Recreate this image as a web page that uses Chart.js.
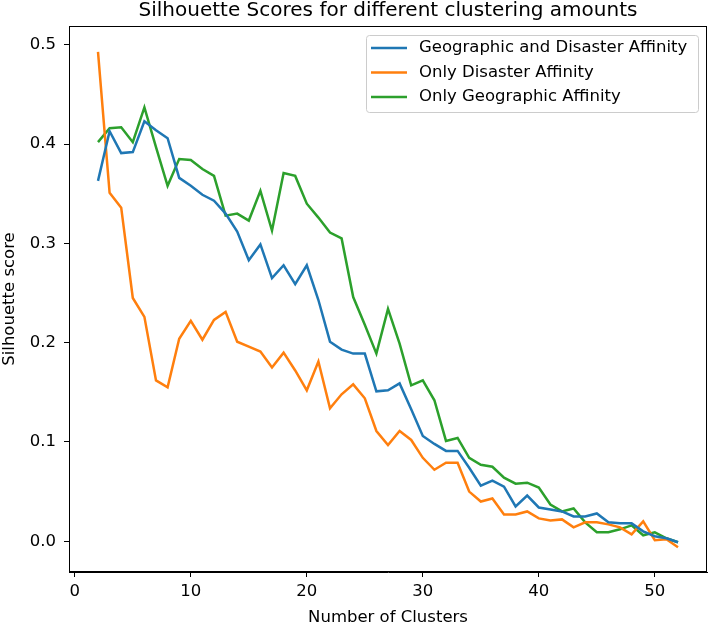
<!DOCTYPE html>
<html>
<head>
<meta charset="utf-8">
<script src="https://cdn.jsdelivr.net/npm/chart.js@4.4.1/dist/chart.umd.min.js"></script>
<style>
  html, body { margin: 0; padding: 0; background: #fff; }
  #wrap { width: 708px; height: 627px; position: relative; }
</style>
</head>
<body>
<div id="wrap"><canvas id="grafico"></canvas></div>
<script>
// number of clusters on the x axis
const clusters = [2, 3, 4, 5, 6, 7, 8, 9, 10, 11, 12, 13, 14, 15, 16, 17, 18, 19, 20, 21, 22, 23, 24, 25, 26,
    27, 28, 29, 30, 31, 32, 33, 34, 35, 36, 37, 38, 39, 40, 41, 42, 43, 44, 45, 46, 47, 48, 49, 50, 51, 52];

const geoDisaster = [0.363, 0.413, 0.391, 0.392, 0.423, 0.414, 0.406, 0.366, 0.358, 0.349, 0.343, 0.330, 0.312,
    0.283, 0.299, 0.265, 0.278, 0.259, 0.278, 0.243, 0.201, 0.193, 0.189, 0.189, 0.151, 0.152, 0.159, 0.133,
    0.106, 0.098, 0.091, 0.091, 0.074, 0.056, 0.061, 0.055, 0.035, 0.046, 0.034, 0.032, 0.030, 0.025, 0.025,
    0.028, 0.019, 0.018, 0.018, 0.010, 0.005, 0.003, -0.001];

const onlyDisaster = [0.493, 0.351, 0.336, 0.245, 0.226, 0.162, 0.155, 0.204, 0.222, 0.203, 0.223, 0.231, 0.201,
    0.196, 0.191, 0.175, 0.190, 0.172, 0.152, 0.181, 0.134, 0.148, 0.158, 0.144, 0.111, 0.097, 0.111, 0.102,
    0.084, 0.072, 0.079, 0.079, 0.050, 0.040, 0.043, 0.027, 0.027, 0.030, 0.023, 0.021, 0.022, 0.014, 0.019,
    0.019, 0.017, 0.014, 0.007, 0.020, 0.001, 0.002, -0.006];

const onlyGeo = [0.402, 0.416, 0.417, 0.402, 0.437, 0.397, 0.358, 0.385, 0.384, 0.375, 0.368, 0.328, 0.330,
    0.323, 0.353, 0.313, 0.371, 0.368, 0.340, 0.326, 0.311, 0.305, 0.246, 0.218, 0.189, 0.234, 0.199, 0.157,
    0.162, 0.142, 0.101, 0.104, 0.084, 0.077, 0.075, 0.064, 0.058, 0.059, 0.054, 0.037, 0.030, 0.033, 0.019,
    0.009, 0.009, 0.012, 0.016, 0.006, 0.009, 0.003, -0.001];

const xTicks = [0, 10, 20, 30, 40, 50];
const yTicks = [0.0, 0.1, 0.2, 0.3, 0.4, 0.5];

const seriesNames = ['Geographic and Disaster Affinity', 'Only Disaster Affinity', 'Only Geographic Affinity'];
const colores = ['#1f77b4', '#ff7f0e', '#2ca02c'];

const FUENTE = 'DejaVu Sans';
const TAM = 16.5;   // 10pt at this size

const puntos = (vals) => clusters.map((c, i) => ({ x: c, y: vals[i] }));

// frame on all four sides, title and legend box like matplotlib
const marcoPlugin = {
    id: 'marco',
    afterDraw(chart) {
        const { ctx, chartArea: a } = chart;
        ctx.save();
        ctx.strokeStyle = '#000';
        ctx.lineWidth = 1;
        ctx.strokeRect(a.left + 0.5, a.top + 0.5, a.right - a.left - 1, a.bottom - a.top - 1);

        // title
        ctx.fillStyle = '#000';
        ctx.font = `20px "${FUENTE}"`;
        ctx.textAlign = 'center';
        ctx.textBaseline = 'middle';
        ctx.fillText('Silhouette Scores for different clustering amounts', (a.left + a.right) / 2, 11);

        // legend
        const bx = 366, by = 35, bw = 332, bh = 77;
        ctx.beginPath();
        ctx.roundRect(bx + 0.5, by + 0.5, bw, bh, 3);
        ctx.fillStyle = 'rgba(255,255,255,0.8)';
        ctx.fill();
        ctx.strokeStyle = '#cccccc';
        ctx.stroke();
        ctx.font = `${TAM}px "${FUENTE}"`;
        ctx.textAlign = 'left';
        seriesNames.forEach((nombre, i) => {
            const y = 48 + i * 24.5;
            ctx.strokeStyle = colores[i];
            ctx.lineWidth = 2.5;
            ctx.beginPath();
            ctx.moveTo(371, y);
            ctx.lineTo(407, y);
            ctx.stroke();
            ctx.fillStyle = '#000';
            ctx.fillText(nombre, 419, y);
        });
        ctx.restore();
    }
};

new Chart(document.getElementById('grafico'), {
    type: 'line',
    data: {
        datasets: seriesNames.map((nombre, i) => ({
            label: nombre,
            data: puntos([geoDisaster, onlyDisaster, onlyGeo][i]),
            borderColor: colores[i],
            backgroundColor: colores[i],
            borderWidth: 2.5,
            pointRadius: 0,
            tension: 0,
            fill: false
        }))
    },
    options: {
        responsive: true,
        maintainAspectRatio: false,
        animation: false,
        layout: { padding: { top: 26, right: 1, left: 0, bottom: 0 } },
        plugins: {
            legend: { display: false },
            title: { display: false },
            tooltip: { enabled: false }
        },
        scales: {
            x: {
                type: 'linear',
                min: -0.5,
                max: 54.5,
                afterBuildTicks: (s) => { s.ticks = xTicks.map(v => ({ value: v })); },
                afterFit: (s) => { s.height = 55; },
                grid: { drawOnChartArea: false, drawTicks: true, tickLength: 5, tickColor: '#000' },
                border: { display: true, color: '#000' },
                ticks: { color: '#000', font: { family: FUENTE, size: TAM }, padding: 5, maxRotation: 0 },
                title: { display: true, text: 'Number of Clusters', color: '#000', font: { family: FUENTE, size: TAM }, padding: { bottom: -1 } }
            },
            y: {
                type: 'linear',
                min: -0.031,
                max: 0.519,
                afterBuildTicks: (s) => { s.ticks = yTicks.map(v => ({ value: v })); },
                afterFit: (s) => { s.width = 69; },
                grid: { drawOnChartArea: false, drawTicks: true, tickLength: 5, tickColor: '#000' },
                border: { display: true, color: '#000' },
                ticks: { color: '#000', font: { family: FUENTE, size: TAM }, padding: 8, callback: (v) => v.toFixed(1) },
                title: { display: true, text: 'Silhouette score', color: '#000', font: { family: FUENTE, size: TAM }, padding: { top: 0 } }
            }
        }
    },
    plugins: [marcoPlugin]
});
</script>
</body>
</html>
